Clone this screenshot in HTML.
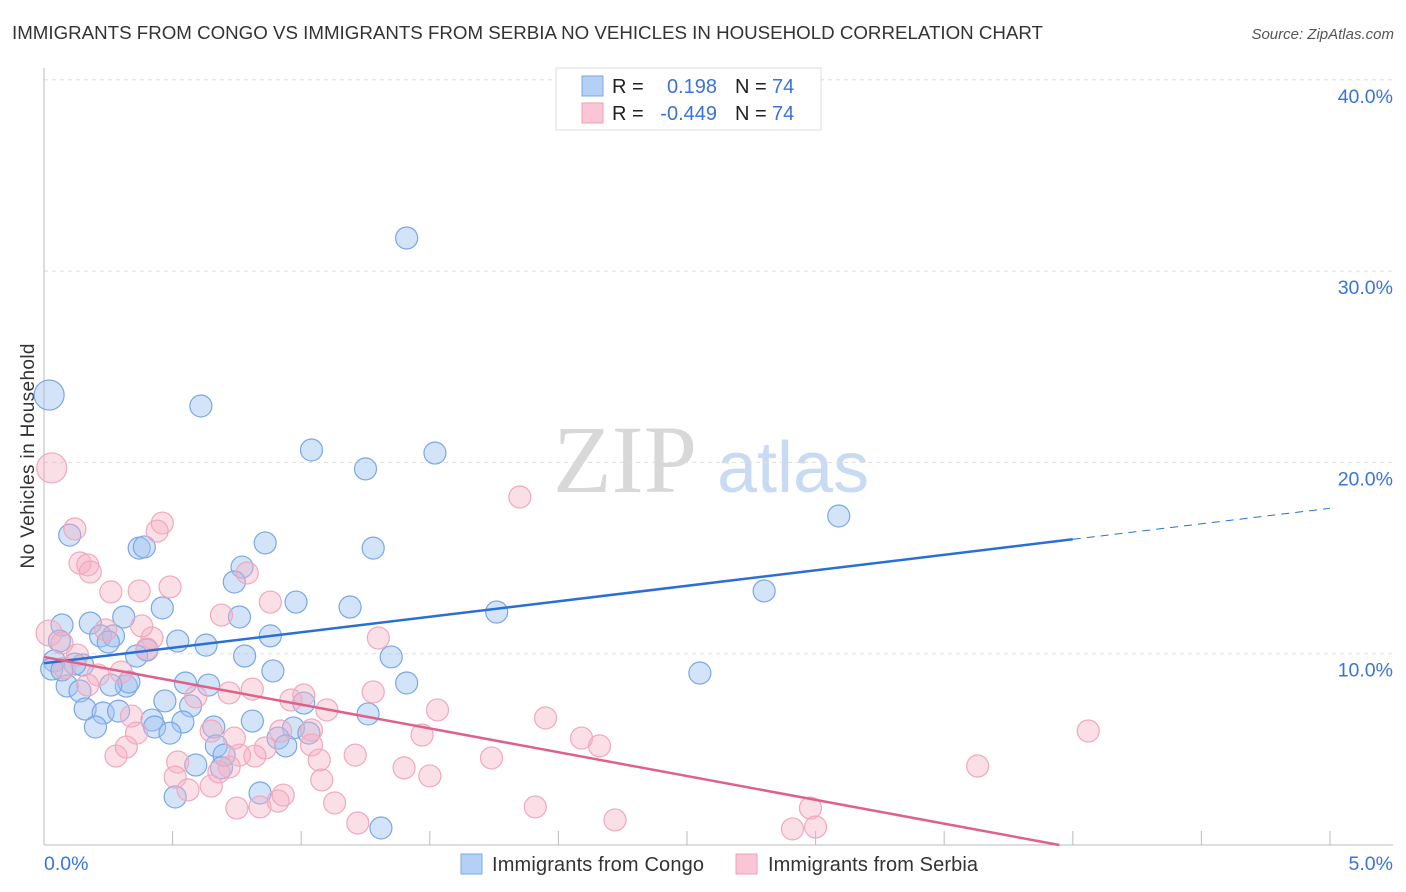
<!DOCTYPE html>
<html><head><meta charset="utf-8"><style>
body{margin:0;width:1406px;height:892px;background:#fff;font-family:"Liberation Sans",sans-serif;overflow:hidden}
</style></head><body>
<svg id="chart" width="1406" height="892" style="position:absolute;left:0;top:0">
<text x="12" y="39" font-size="18" fill="#333" textLength="1031" lengthAdjust="spacingAndGlyphs">IMMIGRANTS FROM CONGO VS IMMIGRANTS FROM SERBIA NO VEHICLES IN HOUSEHOLD CORRELATION CHART</text>
<text x="1394" y="39" font-size="15" fill="#555" font-style="italic" text-anchor="end">Source: ZipAtlas.com</text>
<text x="34" y="456" font-size="19" fill="#333" text-anchor="middle" textLength="225" transform="rotate(-90 34 456)">No Vehicles in Household</text>
<g>
<text x="553" y="492" font-family="Liberation Serif,serif" font-size="96" fill="#d8d8d8">ZIP</text>
<text x="717" y="492" font-size="72" fill="#c8dbf3">atlas</text>
</g>
<g id="grid"></g><g id="marks"></g><g id="trends"></g>
<g>
<rect x="556" y="68" width="265" height="62" fill="#fff" stroke="#ddd"/>
<rect x="582" y="76" width="21" height="20" fill="#b5d0f5" stroke="#7aa7e6"/>
<rect x="582" y="103" width="21" height="20" fill="#fac6d5" stroke="#efa0b8"/>
<text x="612" y="93" font-size="20" fill="#222">R =</text><text x="717" y="93" font-size="20" fill="#3a74d8" text-anchor="end">0.198</text>
<text x="735" y="93" font-size="20" fill="#222">N =</text><text x="772" y="93" font-size="20" fill="#3a74d8">74</text>
<text x="612" y="120" font-size="20" fill="#222">R =</text><text x="717" y="120" font-size="20" fill="#3a74d8" text-anchor="end">-0.449</text>
<text x="735" y="120" font-size="20" fill="#222">N =</text><text x="772" y="120" font-size="20" fill="#3a74d8">74</text>
</g>
<g>
<rect x="461" y="854" width="21" height="20" fill="#b5d0f5" stroke="#7aa7e6"/>
<text x="492" y="871" font-size="20" fill="#333" textLength="212">Immigrants from Congo</text>
<rect x="736" y="854" width="21" height="20" fill="#fac6d5" stroke="#efa0b8"/>
<text x="768" y="871" font-size="20" fill="#333" textLength="210">Immigrants from Serbia</text>
</g>
</svg>
<script>
const yTicks=[10,20,30,40];
const yTickLabels=["10.0%","20.0%","30.0%","40.0%"];
const xTickLabels=["0.0%","5.0%"];
const congoX=[.02,1.41,.61,1.04,1.25,1.52,3.09,.10,.37,.39,.86,1.28,.77,.74,.46,.31,.18,.07,.76,.98,1.19,1.76,2.80,.22,.27,.25,.52,.63,.06,.88,.40,.36,.78,1.35,.04,.15,.03,.12,.89,2.55,.55,.64,.32,.33,.26,1.41,.09,.14,1.01,.47,.57,.16,.23,.29,.42,.43,.54,.66,.81,.97,1.26,.20,.49,.91,1.03,.94,.67,.70,.59,.69,.84,.51,1.31,.07];
const congoY=[23.52,31.73,22.95,20.65,19.66,20.49,17.20,16.20,15.52,15.58,15.79,15.52,14.53,13.75,12.39,11.92,11.60,11.50,11.92,12.70,12.44,12.18,13.28,10.93,10.93,10.61,10.66,10.45,10.66,10.93,10.19,9.88,9.88,9.83,9.62,9.41,9.20,9.46,9.10,8.99,8.47,8.36,8.31,8.52,8.36,8.47,8.31,8.05,7.42,7.53,7.27,7.11,6.90,7.00,6.53,6.17,6.43,6.17,6.48,6.12,6.85,6.17,5.85,5.59,5.85,5.18,5.18,4.70,4.18,4.03,2.72,2.51,0.89,9.15];
const serbiaX=[.03,.02,1.85,.12,.46,.44,.14,.17,.18,.26,.79,.49,.37,.69,.88,.42,.38,.24,.07,1.30,.08,.21,.30,.72,.81,.17,.13,.40,.96,1.01,1.10,1.28,1.53,1.95,.34,.36,.59,.65,.86,.92,1.04,1.47,2.09,2.16,4.06,.28,.32,.76,.82,.74,1.04,1.21,.72,.52,.51,.56,.65,.68,1.07,1.08,1.40,1.50,1.74,3.63,.75,.84,.91,.93,1.13,1.22,1.91,2.22,2.98,2.91,3.00];
const serbiaY=[19.71,11.08,18.19,16.52,16.83,16.41,14.74,14.64,14.27,13.23,14.22,13.49,13.28,12.02,12.70,10.82,11.45,11.24,10.56,10.82,9.25,8.89,9.04,7.95,8.15,8.36,9.93,10.25,7.58,7.84,7.06,8.00,7.06,6.64,6.74,5.85,7.74,5.96,5.07,5.96,6.01,5.75,5.59,5.18,5.96,4.65,5.12,4.70,4.65,5.59,5.23,4.70,4.08,4.34,3.55,2.88,3.08,3.82,4.44,3.40,4.03,3.61,4.55,4.13,1.93,1.99,2.30,2.61,2.20,1.15,1.99,1.31,1.93,0.84,0.94];
const congoTrend=[9.5,1.62];   // intercept, slope
const serbiaTrend=[9.83,-2.49];
const NS='http://www.w3.org/2000/svg';
const X=v=>44+v*257.2, Y=v=>845-v*19.13;
function mk(t,a,p){const e=document.createElementNS(NS,t);for(const k in a)e.setAttribute(k,a[k]);p.appendChild(e);return e;}
const grid=document.getElementById('grid');
yTicks.forEach((t,i)=>{
 const l=mk('line',{x1:44,x2:1393,y1:Y(t),y2:Y(t),stroke:'#ddd','stroke-dasharray':'4 4'},grid);
 
 
 const tx=mk('text',{x:1393,y:Y(t)+23,'font-size':19.5,fill:'#3a74d8','text-anchor':'end'},grid);
 tx.textContent=yTickLabels[i];
 
 
});
mk('line',{x1:44,x2:44,y1:68,y2:845,stroke:'#bbb'},grid);
mk('line',{x1:44,x2:1393,y1:845,y2:845,stroke:'#bbb'},grid);
for(let i=0;i<=10;i++){mk('line',{x1:X(i*.5),x2:X(i*.5),y1:831,y2:845,stroke:'#bbb'},grid);}
const xl0=mk('text',{x:44,y:870,'font-size':19.5,fill:'#3a74d8'},grid);xl0.textContent=xTickLabels[0];


const xl1=mk('text',{x:1393,y:870,'font-size':19.5,fill:'#3a74d8','text-anchor':'end'},grid);xl1.textContent=xTickLabels[1];


const marks=document.getElementById('marks');
congoX.forEach((x,i)=>{const c=mk('circle',{cx:X(x),cy:Y(congoY[i]),r:i==0?15:11,fill:'rgba(160,196,240,0.45)',stroke:'#7aa7e6','stroke-width':1.2},marks);
 
 });
serbiaX.forEach((x,i)=>{const c=mk('circle',{cx:X(x),cy:Y(serbiaY[i]),r:i==0?15:(i==1?13:11),fill:'rgba(246,175,195,0.4)',stroke:'#f0a8bd','stroke-width':1.2},marks);
 
 });
const tr=document.getElementById('trends');
const b1=mk('line',{x1:X(0),y1:Y(congoTrend[0]),x2:X(4),y2:Y(congoTrend[0]+4*congoTrend[1]),stroke:'#2a6fd6','stroke-width':2.5},tr);


const b2=mk('line',{x1:X(4),y1:Y(congoTrend[0]+4*congoTrend[1]),x2:X(5),y2:Y(congoTrend[0]+5*congoTrend[1]),stroke:'#2a6fd6','stroke-width':1,'stroke-dasharray':'8 6'},tr);


const xe=-serbiaTrend[0]/serbiaTrend[1];
const p1=mk('line',{x1:X(0),y1:Y(serbiaTrend[0]),x2:X(xe),y2:Y(0),stroke:'#e0608a','stroke-width':2.5},tr);


</script>
</body></html>
